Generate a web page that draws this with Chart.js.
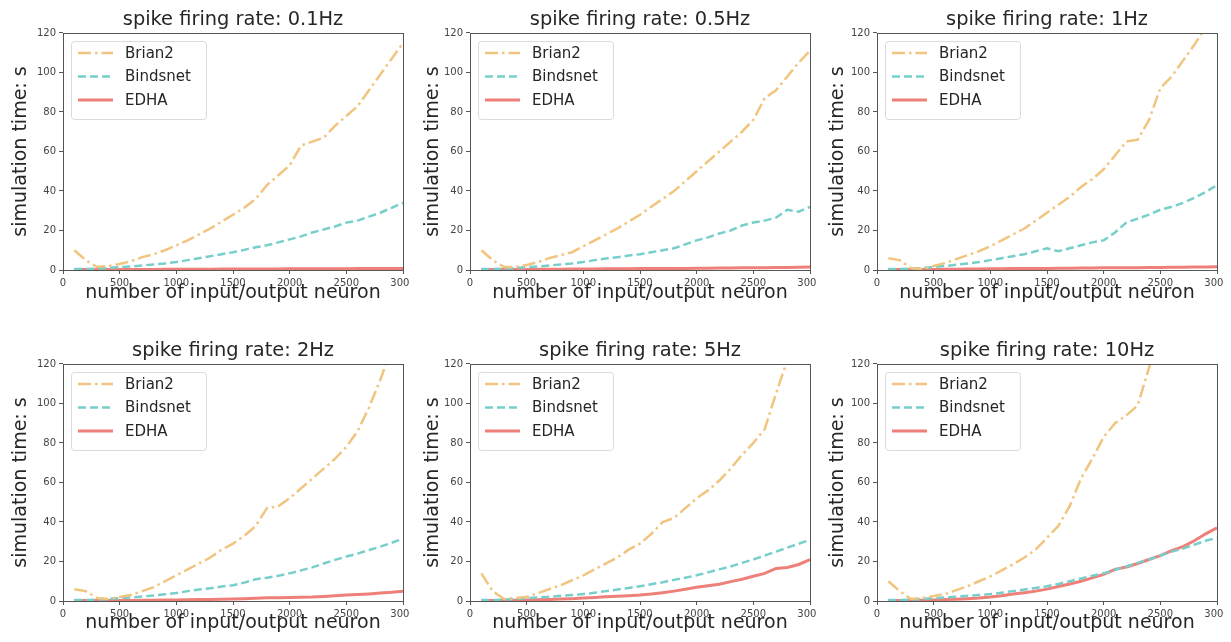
<!DOCTYPE html>
<html>
<head>
<meta charset="utf-8">
<script src="https://cdn.jsdelivr.net/npm/chart.js@4.4.1/dist/chart.umd.min.js"></script>
<style>
  body { margin: 0; background: #fff; width: 1231px; height: 642px; overflow: hidden; position: relative; }
  canvas { position: absolute; }
</style>
</head>
<body>
<canvas id="p0" width="410" height="311"></canvas>
<canvas id="p1" width="410" height="311"></canvas>
<canvas id="p2" width="410" height="311"></canvas>
<canvas id="p3" width="410" height="311"></canvas>
<canvas id="p4" width="410" height="311"></canvas>
<canvas id="p5" width="410" height="311"></canvas>
<script>
// number of input/output neurons
const neurons = [100, 200, 300, 400, 500, 600, 700, 800, 900, 1000,
  1100, 1200, 1300, 1400, 1500, 1600, 1700, 1800, 1900, 2000,
  2100, 2200, 2300, 2400, 2500, 2600, 2700, 2800, 2900, 3000];

const rates = ['0.1Hz', '0.5Hz', '1Hz', '2Hz', '5Hz', '10Hz'];
const seriesNames = ['Brian2', 'Bindsnet', 'EDHA'];
const xTicks = [0, 500, 1000, 1500, 2000, 2500, 3000];
const yTicks = [0, 20, 40, 60, 80, 100, 120];

// simulation time (s)
const brian2_01 = [10, 5, 1.5, 2, 3, 4.5, 6.5, 8, 10, 12.5, 15, 18, 21, 24.5, 28, 31.5, 36, 43, 48, 53, 63, 65, 67, 73, 78, 83, 91, 99, 107, 115];
const bindsnet_01 = [0.5, 0.5, 0.7, 1, 1.5, 1.8, 2.3, 2.8, 3.3, 4, 5, 6, 7, 8, 9, 10.2, 11.5, 12.5, 14, 15.5, 17, 19, 20.5, 22, 24, 25, 27, 29, 31.5, 34];
const edha_01 = [0.2, 0.2, 0.2, 0.3, 0.3, 0.3, 0.3, 0.3, 0.4, 0.4, 0.4, 0.4, 0.4, 0.5, 0.5, 0.5, 0.5, 0.5, 0.5, 0.6, 0.6, 0.6, 0.6, 0.6, 0.6, 0.7, 0.7, 0.7, 0.7, 0.8];

const brian2_05 = [10, 5, 1.5, 1.5, 2.5, 4, 6, 7.5, 9, 12, 15, 18, 21, 24.5, 28, 32, 36, 40, 45, 50, 55, 60, 65, 70, 76, 87, 91, 98, 105, 111];
const bindsnet_05 = [0.5, 0.5, 0.7, 1, 1.5, 1.8, 2.3, 2.8, 3.3, 4, 5, 5.8, 6.5, 7.3, 8, 9, 10, 11, 13, 15, 16.5, 18.5, 20, 22.5, 24, 25, 26.5, 30.5, 29.5, 32];
const edha_05 = [0.2, 0.2, 0.3, 0.3, 0.3, 0.4, 0.4, 0.4, 0.5, 0.5, 0.5, 0.6, 0.6, 0.6, 0.7, 0.7, 0.8, 0.8, 0.8, 0.9, 0.9, 1, 1, 1.1, 1.1, 1.2, 1.3, 1.3, 1.4, 1.5];

const brian2_1 = [6, 5, 1, 0.5, 2, 3.5, 5.5, 7.5, 9.5, 12, 15, 18, 21, 25, 29, 33, 37, 42, 46, 51, 58, 65, 66, 76, 92, 98, 106, 114, 123, 132];
const bindsnet_1 = [0.5, 0.5, 0.7, 1, 1.5, 2, 2.7, 3.3, 4, 5, 6, 7, 8, 9.5, 11, 9.5, 11, 12.5, 14, 15, 19, 24, 26, 28, 30.5, 32, 34, 36.5, 39.5, 43];
const edha_1 = [0.2, 0.2, 0.3, 0.3, 0.3, 0.4, 0.4, 0.5, 0.5, 0.6, 0.6, 0.7, 0.7, 0.8, 0.8, 0.9, 0.9, 1, 1, 1.1, 1.1, 1.2, 1.2, 1.3, 1.3, 1.4, 1.4, 1.5, 1.5, 1.6];

const brian2_2 = [6, 5, 1.5, 1, 2, 3, 5, 7, 10, 13, 16, 19, 22, 26, 29, 33, 38, 47, 48, 52, 57, 62, 67, 72, 78, 86, 98, 112, 128, null];
const bindsnet_2 = [0.5, 0.5, 0.7, 1, 1.5, 1.8, 2.3, 2.8, 3.4, 4, 5, 5.8, 6.5, 7.3, 8, 9.3, 11, 11.8, 12.8, 14, 15.5, 17, 19, 20.8, 22.5, 24, 25.8, 27.5, 29.5, 31.5];
const edha_2 = [0.2, 0.2, 0.2, 0.3, 0.3, 0.3, 0.4, 0.4, 0.5, 0.5, 0.6, 0.7, 0.8, 0.9, 1, 1.2, 1.4, 1.6, 1.7, 1.8, 1.9, 2, 2.3, 2.6, 3, 3.3, 3.6, 4, 4.4, 5];

const brian2_5 = [14, 5, 1, 1.5, 2, 4, 6, 8, 10.5, 13, 16, 19, 22, 26, 29, 34, 40, 42, 47, 52, 56, 61, 67, 74, 80, 87, 105, 122, null, null];
const bindsnet_5 = [0.5, 0.5, 0.7, 1, 1.5, 1.8, 2.2, 2.6, 3, 3.5, 4.2, 5, 5.8, 6.6, 7.5, 8.5, 9.5, 10.7, 11.8, 13, 14.5, 16, 17.5, 19.3, 21, 23, 25, 27, 29, 31];
const edha_5 = [0.2, 0.2, 0.3, 0.4, 0.5, 0.6, 0.8, 1, 1.2, 1.5, 1.8, 2.1, 2.4, 2.7, 3, 3.5, 4.2, 5, 6, 7, 7.7, 8.5, 9.8, 11, 12.5, 14, 16.5, 17, 18.5, 21];

const brian2_10 = [10, 5, 1, 1.5, 2.5, 3.5, 5.5, 7.5, 10, 12.5, 15.5, 18.5, 22, 26, 32, 38, 48, 62, 72, 83, 90, 94, 99, 118, 138, null, null, null, null, null];
const bindsnet_10 = [0.5, 0.5, 0.7, 1, 1.5, 1.8, 2.2, 2.6, 3, 3.5, 4.2, 5, 5.8, 6.6, 7.5, 8.6, 10, 11.4, 12.8, 14, 15.8, 17.5, 19.3, 21, 23, 25, 26.5, 28.5, 30.5, 32];
const edha_10 = [0.2, 0.2, 0.3, 0.4, 0.5, 0.7, 0.9, 1.2, 1.5, 2, 2.7, 3.5, 4.2, 5, 6, 7.3, 8.6, 10, 11.7, 13.5, 16, 17.2, 19, 21, 23, 25.5, 27.5, 30.5, 34, 37];

const panelSeries = [
  [brian2_01, bindsnet_01, edha_01],
  [brian2_05, bindsnet_05, edha_05],
  [brian2_1, bindsnet_1, edha_1],
  [brian2_2, bindsnet_2, edha_2],
  [brian2_5, bindsnet_5, edha_5],
  [brian2_10, bindsnet_10, edha_10]
];

const FONT = '"DejaVu Sans", sans-serif';
const colors = ['#F1C57F', '#76CFCA', '#EF7F79'];
const dashes = [[13, 4, 2.5, 4], [8, 4], []];
const widths = [2.5, 2.5, 3];

// plot-area origin of each panel on the page
const plotLeft = [63, 470, 877];
const plotTop = [33, 364];
const yTitleGap = [9.6, 14.6, 12.6];

// axes box around the whole plot area (matplotlib style)
const frame = {
  id: 'frame',
  afterDraw(chart) {
    const { ctx, chartArea: a } = chart;
    ctx.save();
    ctx.strokeStyle = '#555';
    ctx.lineWidth = 1;
    ctx.strokeRect(Math.round(a.left) + 0.5, Math.round(a.top) + 0.5, Math.round(a.width), Math.round(a.height));
    ctx.restore();
  }
};

// legend drawn inside the axes, upper left
const innerLegend = {
  id: 'innerLegend',
  afterDatasetsDraw(chart) {
    const { ctx, chartArea } = chart;
    const sets = chart.data.datasets;
    const x0 = chartArea.left + 8, y0 = chartArea.top + 8;
    ctx.save();
    ctx.font = '15px ' + FONT;
    const w = Math.max(...sets.map(d => ctx.measureText(d.label).width)) + 62 + 7;
    ctx.beginPath();
    ctx.roundRect(x0 + 0.5, y0 + 0.5, w, 78, 3);
    ctx.fillStyle = 'rgba(255,255,255,0.8)';
    ctx.fill();
    ctx.strokeStyle = '#dadada';
    ctx.lineWidth = 1;
    ctx.stroke();
    sets.forEach((d, i) => {
      const y = y0 + 12 + i * 23.5;
      ctx.beginPath();
      ctx.setLineDash(d.borderDash);
      ctx.strokeStyle = d.borderColor;
      ctx.lineWidth = d.borderWidth;
      ctx.moveTo(x0 + 7, y);
      ctx.lineTo(x0 + 42, y);
      ctx.stroke();
      ctx.setLineDash([]);
      ctx.fillStyle = '#262626';
      ctx.textBaseline = 'middle';
      ctx.fillText(d.label, x0 + 54, y + 1);
    });
    ctx.restore();
  }
};

rates.forEach((rate, p) => {
  const row = Math.floor(p / 3), col = p % 3;
  const canvas = document.getElementById('p' + p);
  canvas.style.left = (plotLeft[col] - 63) + 'px';
  canvas.style.top = (plotTop[row] - 33) + 'px';

  const datasets = seriesNames.map((name, s) => ({
    label: name,
    data: neurons.map((n, i) => ({ x: n, y: panelSeries[p][s][i] })),
    borderColor: colors[s],
    borderDash: dashes[s],
    borderWidth: widths[s],
    pointRadius: 0,
    tension: 0,
    clip: { left: 0, right: 0, top: 0, bottom: 3 },
    // EDHA underneath, dashed lines on top
    order: s === 2 ? 3 : s
  }));

  new Chart(canvas.getContext('2d'), {
    type: 'line',
    data: { datasets },
    options: {
      responsive: false,
      animation: false,
      devicePixelRatio: 1,
      layout: { padding: { left: 0, top: 0, bottom: 0, right: 7 } },
      plugins: {
        legend: { display: false },
        tooltip: { enabled: false },
        title: {
          display: true,
          fullSize: false,
          text: 'spike firing rate: ' + rate,
          color: '#262626',
          font: { family: FONT, size: 19.4, weight: 'normal', lineHeight: 1.2 },
          padding: { top: 8, bottom: 1.7 }
        }
      },
      scales: {
        x: {
          type: 'linear',
          min: 0,
          max: 3000,
          afterBuildTicks: axis => { axis.ticks = xTicks.map(v => ({ value: v })); },
          afterFit: axis => { axis.height = 41; axis.paddingLeft = 0; axis.paddingRight = 0; },
          grid: { drawOnChartArea: false, drawTicks: true, tickLength: 4, color: '#555' },
          border: { display: false },
          ticks: {
            padding: 3,
            maxRotation: 0,
            color: '#444',
            font: { family: FONT, size: 10 },
            callback: v => String(v)
          },
          title: {
            display: true,
            text: 'number of input/output neuron',
            color: '#262626',
            font: { family: FONT, size: 19, lineHeight: 1.2 },
            padding: { top: 0, bottom: row === 0 ? 6.6 : 7.6 }
          }
        },
        y: {
          min: 0,
          max: 120,
          afterBuildTicks: axis => { axis.ticks = yTicks.map(v => ({ value: v })); },
          afterFit: axis => { axis.width = 63; axis.paddingTop = 0; axis.paddingBottom = 0; },
          grid: { drawOnChartArea: false, drawTicks: true, tickLength: 4, color: '#555' },
          border: { display: false },
          ticks: {
            padding: 3,
            color: '#444',
            font: { family: FONT, size: 10 },
            callback: v => String(v)
          },
          title: {
            display: true,
            text: 'simulation time: s',
            color: '#262626',
            font: { family: FONT, size: 19, lineHeight: 1.2 },
            padding: { top: yTitleGap[col], bottom: 0 }
          }
        }
      }
    },
    plugins: [innerLegend, frame]
  });
});
</script>
</body>
</html>
